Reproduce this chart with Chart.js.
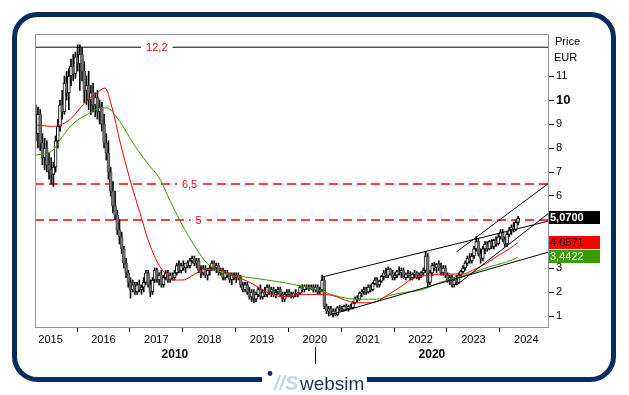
<!DOCTYPE html>
<html>
<head>
<meta charset="utf-8">
<script src="https://cdn.jsdelivr.net/npm/chart.js@4.4.0/dist/chart.umd.min.js"></script>
<style>
  html, body { margin: 0; padding: 0; background: #fff; }
  #chart { display: block; }
</style>
</head>
<body>
<canvas id="chart" width="629" height="395"></canvas>
<script>
// half-month candles, first one in Sep 2014
const FIRST_CANDLE = 2014.72;
const STEP = 1 / 24;

const opens = [
  9.0, 8.6, 9.4, 8.2, 7.6, 8.0, 7.3,
  7.1, 6.9, 7.2, 8.3, 8.9, 9.8, 9.5, 10.7, 10.3, 11.0, 11.4, 11.1, 11.8, 11.5, 11.9, 11.2, 10.4, 10.6, 10.0, 10.3, 9.8, 10.1, 9.5, 9.7,
  9.0, 8.2, 7.8, 7.0, 6.2, 5.6, 5.2, 4.6, 4.3, 3.8, 3.2, 2.8, 2.4, 2.1, 2.3, 2.0, 2.3, 2.1, 2.2, 2.4, 2.8, 2.3, 2.0, 2.5,
  2.9, 2.5, 2.7, 2.3, 2.6, 2.8, 2.5, 2.7, 2.6, 2.8, 3.1, 2.9, 3.1, 3.0, 3.2, 3.1, 3.3, 3.4, 3.2, 3.3, 2.9, 2.8, 3.0, 2.7,
  2.9, 3.0, 3.2, 3.0, 3.1, 2.8, 2.9, 2.6, 2.8, 2.7, 2.5, 2.7, 2.6, 2.7, 2.6, 2.3, 2.1, 2.3, 2.0, 1.8, 2.0, 1.7, 1.9, 2.1,
  1.8, 2.0, 1.9, 2.2, 2.0, 2.1, 1.9, 2.0, 2.1, 1.9, 1.7, 1.9, 2.0, 1.9, 1.8, 1.95, 1.9, 1.95, 2.2, 2.1, 2.25, 2.2, 2.15, 2.2,
  2.1, 2.2, 2.0, 2.1, 2.5, 1.4, 1.2, 1.3, 1.1, 1.2, 1.05, 1.35, 1.3, 1.25, 1.4, 1.3, 1.4, 1.35, 1.55, 1.75, 1.7, 1.95, 2.0, 2.1,
  2.0, 2.2, 2.1, 2.35, 2.5, 2.3, 2.45, 2.65, 2.8, 2.7, 2.95, 2.75, 2.6, 2.7, 2.85, 2.8, 2.9, 2.6, 2.75, 2.7, 2.6, 2.75, 2.8, 2.6,
  2.7, 2.8, 2.9, 3.5, 2.4, 2.8, 3.1, 3.0, 3.15, 3.0, 2.8, 3.0, 2.7, 2.5, 2.6, 2.3, 2.5, 2.4, 2.7, 2.85, 3.0, 3.2, 3.4, 3.3,
  3.5, 3.8, 4.1, 3.6, 3.4, 3.8, 4.0, 3.8, 4.1, 3.9, 4.15, 4.0, 4.3, 4.5, 4.2, 4.0, 4.4, 4.6, 4.7, 4.6, 4.9
];
const highs = [
  9.8, 9.7, 9.6, 8.6, 8.4, 8.3, 7.8,
  7.6, 7.4, 8.5, 9.2, 10.0, 10.4, 11.0, 11.2, 11.3, 11.7, 11.9, 12.0, 12.3, 12.3, 12.2, 11.6, 11.0, 11.2, 10.6, 10.7, 10.3, 10.4, 10.0, 9.9,
  9.4, 8.6, 8.3, 7.2, 6.6, 6.2, 5.4, 5.0, 4.5, 3.9, 3.4, 2.9, 2.6, 2.5, 2.4, 2.4, 2.5, 2.3, 2.6, 2.9, 2.9, 2.5, 2.6, 3.0,
  3.0, 2.8, 2.9, 2.7, 2.9, 2.9, 2.8, 2.8, 2.9, 3.2, 3.3, 3.2, 3.3, 3.2, 3.3, 3.4, 3.5, 3.5, 3.4, 3.4, 3.1, 3.1, 3.1, 3.0,
  3.1, 3.3, 3.3, 3.2, 3.2, 3.0, 3.0, 2.9, 2.9, 2.8, 2.8, 2.8, 2.8, 2.8, 2.7, 2.4, 2.4, 2.4, 2.2, 2.1, 2.1, 2.0, 2.2, 2.3,
  2.1, 2.2, 2.3, 2.3, 2.2, 2.2, 2.1, 2.2, 2.2, 2.0, 2.0, 2.1, 2.1, 2.0, 2.0, 2.1, 2.0, 2.25, 2.3, 2.3, 2.3, 2.3, 2.3, 2.3,
  2.3, 2.3, 2.2, 2.7, 2.6, 1.5, 1.4, 1.4, 1.3, 1.3, 1.4, 1.45, 1.4, 1.45, 1.5, 1.45, 1.5, 1.6, 1.8, 1.85, 2.0, 2.1, 2.2, 2.2,
  2.3, 2.3, 2.4, 2.6, 2.6, 2.5, 2.7, 2.9, 3.0, 3.05, 3.0, 2.9, 2.8, 2.9, 3.05, 3.0, 3.0, 2.8, 2.9, 2.85, 2.8, 2.9, 2.85, 2.8,
  2.85, 3.0, 3.7, 3.6, 2.9, 3.2, 3.25, 3.2, 3.3, 3.2, 3.1, 3.1, 2.8, 2.7, 2.7, 2.6, 2.7, 2.8, 2.9, 3.1, 3.3, 3.5, 3.6, 3.6,
  3.9, 4.3, 4.2, 3.8, 3.9, 4.1, 4.1, 4.15, 4.2, 4.2, 4.3, 4.4, 4.6, 4.6, 4.3, 4.5, 4.7, 4.8, 4.9, 5.0, 5.15
];
const lows = [
  8.3, 8.0, 7.9, 7.3, 7.1, 7.0, 6.7,
  6.5, 6.4, 7.0, 8.0, 8.7, 9.2, 9.4, 10.0, 9.6, 10.6, 10.8, 10.9, 11.2, 10.4, 10.8, 9.9, 9.8, 9.6, 9.4, 9.5, 9.3, 9.2, 9.0, 8.7,
  8.0, 7.5, 6.7, 6.0, 5.3, 5.0, 4.4, 4.0, 3.6, 3.0, 2.6, 2.2, 1.75, 2.0, 1.9, 1.9, 2.0, 1.9, 2.0, 2.3, 2.2, 1.8, 1.9, 2.4,
  2.4, 2.3, 2.2, 2.2, 2.5, 2.4, 2.4, 2.5, 2.5, 2.7, 2.8, 2.8, 2.9, 2.8, 3.0, 3.0, 3.2, 3.1, 3.0, 2.8, 2.6, 2.7, 2.6, 2.5,
  2.7, 2.9, 2.9, 2.8, 2.7, 2.7, 2.5, 2.5, 2.6, 2.4, 2.3, 2.5, 2.4, 2.5, 2.2, 2.0, 2.0, 1.9, 1.7, 1.6, 1.55, 1.6, 1.8, 1.7,
  1.7, 1.8, 1.8, 1.9, 1.8, 1.8, 1.75, 1.9, 1.8, 1.6, 1.6, 1.8, 1.8, 1.75, 1.75, 1.8, 1.8, 1.9, 2.0, 2.0, 2.1, 2.05, 2.1, 2.0,
  2.0, 1.9, 1.9, 2.0, 1.3, 1.1, 1.0, 1.05, 0.95, 1.0, 1.0, 1.2, 1.2, 1.2, 1.25, 1.2, 1.3, 1.3, 1.5, 1.6, 1.65, 1.8, 1.9, 1.9,
  1.95, 2.0, 2.05, 2.3, 2.2, 2.2, 2.4, 2.5, 2.6, 2.6, 2.7, 2.5, 2.5, 2.6, 2.7, 2.6, 2.55, 2.5, 2.6, 2.5, 2.5, 2.6, 2.55, 2.5,
  2.6, 2.7, 2.8, 2.2, 2.3, 2.7, 2.9, 2.8, 2.9, 2.7, 2.7, 2.6, 2.4, 2.3, 2.2, 2.2, 2.3, 2.35, 2.6, 2.8, 2.9, 3.1, 3.2, 3.2,
  3.4, 3.7, 3.5, 3.2, 3.3, 3.6, 3.7, 3.75, 3.8, 3.8, 3.9, 3.95, 4.2, 4.1, 3.9, 3.9, 4.3, 4.4, 4.5, 4.55, 4.8
];
const closes = [
  8.6, 9.4, 8.2, 7.6, 8.0, 7.3, 7.1,
  6.9, 7.2, 8.3, 8.9, 9.8, 9.5, 10.7, 10.3, 11.0, 11.4, 11.1, 11.8, 11.5, 11.9, 11.2, 10.4, 10.6, 10.0, 10.3, 9.8, 10.1, 9.5, 9.7, 9.0,
  8.2, 7.8, 7.0, 6.2, 5.6, 5.2, 4.6, 4.3, 3.8, 3.2, 2.8, 2.4, 2.1, 2.3, 2.0, 2.3, 2.1, 2.2, 2.4, 2.8, 2.3, 2.0, 2.5, 2.9,
  2.5, 2.7, 2.3, 2.6, 2.8, 2.5, 2.7, 2.6, 2.8, 3.1, 2.9, 3.1, 3.0, 3.2, 3.1, 3.3, 3.4, 3.2, 3.3, 2.9, 2.8, 3.0, 2.7, 2.9,
  3.0, 3.2, 3.0, 3.1, 2.8, 2.9, 2.6, 2.8, 2.7, 2.5, 2.7, 2.6, 2.7, 2.6, 2.3, 2.1, 2.3, 2.0, 1.8, 2.0, 1.7, 1.9, 2.1, 1.8,
  2.0, 1.9, 2.2, 2.0, 2.1, 1.9, 2.0, 2.1, 1.9, 1.7, 1.9, 2.0, 1.9, 1.8, 1.95, 1.9, 1.95, 2.2, 2.1, 2.25, 2.2, 2.15, 2.2, 2.1,
  2.2, 2.0, 2.1, 2.5, 1.4, 1.2, 1.3, 1.1, 1.2, 1.05, 1.35, 1.3, 1.25, 1.4, 1.3, 1.4, 1.35, 1.55, 1.75, 1.7, 1.95, 2.0, 2.1, 2.0,
  2.2, 2.1, 2.35, 2.5, 2.3, 2.45, 2.65, 2.8, 2.7, 2.95, 2.75, 2.6, 2.7, 2.85, 2.8, 2.9, 2.6, 2.75, 2.7, 2.6, 2.75, 2.8, 2.6, 2.7,
  2.8, 2.9, 3.5, 2.4, 2.8, 3.1, 3.0, 3.15, 3.0, 2.8, 3.0, 2.7, 2.5, 2.6, 2.3, 2.5, 2.4, 2.7, 2.85, 3.0, 3.2, 3.4, 3.3, 3.5,
  3.8, 4.1, 3.6, 3.4, 3.8, 4.0, 3.8, 4.1, 3.9, 4.15, 4.0, 4.3, 4.5, 4.2, 4.0, 4.4, 4.6, 4.7, 4.6, 4.9, 5.07
];

// moving averages
const redMaYears = [2014.72, 2015.04, 2015.23, 2015.42, 2015.61, 2015.88, 2016.03, 2016.16, 2016.31, 2016.50, 2016.69, 2016.84,
  2017.03, 2017.20, 2017.31, 2017.50, 2017.77, 2017.92, 2018.14, 2018.45, 2018.77, 2019.09, 2019.39, 2019.71, 2020.09,
  2020.34, 2020.66, 2020.98, 2021.17, 2021.36, 2021.61, 2021.85, 2022.17, 2022.49, 2022.79, 2022.98, 2023.25, 2023.49, 2023.68, 2023.84];
const redMaValues = [8.96, 8.9, 9.0, 9.3, 9.8, 10.3, 10.5, 9.7, 8.3, 6.7, 5.3, 4.2,
  3.2, 2.7, 2.5, 2.5, 2.8, 2.95, 2.95, 2.7, 2.4, 2.0, 1.8, 1.9, 1.9,
  1.85, 1.6, 1.55, 1.6, 1.85, 2.2, 2.55, 2.7, 2.75, 2.75, 2.9, 3.2, 3.55, 3.8, 4.0571];
const greenMaYears = [2014.72, 2015.04, 2015.23, 2015.42, 2015.69, 2015.93, 2016.06, 2016.31, 2016.56, 2016.82, 2017.07, 2017.26,
  2017.44, 2017.63, 2017.82, 2017.96, 2018.11, 2018.33, 2018.77, 2019.39, 2020.03, 2020.47, 2020.79, 2021.17, 2021.41,
  2021.61, 2022.04, 2022.37, 2022.69, 2022.98, 2023.30, 2023.63, 2023.84];
const greenMaValues = [7.7, 7.9, 8.5, 9.0, 9.4, 9.65, 9.67, 9.1, 8.2, 7.4, 6.7, 5.8,
  5.0, 4.25, 3.6, 3.2, 2.95, 2.75, 2.6, 2.4, 2.1, 1.8, 1.7, 1.7, 1.85,
  1.95, 2.1, 2.4, 2.6, 2.8, 3.05, 3.25, 3.4422];

// trend lines: [startYear, startValue, endYear, endValue]
const channelUpper = [2020.13, 2.62, 2024.43, 4.96];
const channelLower = [2020.28, 1.04, 2024.43, 3.67];
const steepUpper = [2022.68, 3.67, 2024.43, 6.54];
const steepLower = [2022.68, 2.29, 2024.43, 5.29];

const levelValues = [12.2, 6.5, 5];
const levelLabels = ['12,2', '6,5', '5'];

const lastValues = [5.07, 4.0571, 3.4422];
const lastLabels = ['5,0700', '4,0571', '3,4422'];

const yearTicks = [2015, 2016, 2017, 2018, 2019, 2020, 2021, 2022, 2023, 2024];
const priceTicks = [1, 2, 3, 4, 5, 6, 7, 8, 9, 10, 11];
const decadeLabels = ['2010', '2020'];

const X_MIN = 2014.705, X_MAX = 2024.43;
const FONT = '"Liberation Sans", Arial, sans-serif';
const NAVY = '#082c5c';
const RED = '#ff0000';
const GREEN = '#3a9c00';

Chart.defaults.font.family = FONT;
Chart.defaults.font.size = 11;
Chart.defaults.color = '#000';

const candleTimes = closes.map((c, i) => FIRST_CANDLE + i * STEP);
const wickData = candleTimes.map((t, i) => ({ x: t, y: [lows[i], highs[i]] }));
const bodyData = candleTimes.map((t, i) => ({ x: t, y: [opens[i], closes[i]] }));
const isUp = closes.map((c, i) => c >= opens[i]);

const pairs = (xs, ys) => xs.map((x, i) => ({ x: x, y: ys[i] }));
const segment = s => [{ x: s[0], y: s[1] }, { x: s[2], y: s[3] }];
const level = v => [{ x: X_MIN, y: v }, { x: X_MAX, y: v }];

const lineBase = { type: 'line', pointRadius: 0, borderWidth: 1, fill: false };

const extras = {
  id: 'extras',
  beforeDraw(chart) {
    const ctx = chart.ctx;
    ctx.save();
    ctx.fillStyle = '#fff';
    ctx.fillRect(0, 0, chart.width, chart.height);
    ctx.restore();
  },
  afterDatasetsDraw(chart) {
    const { ctx, chartArea: a, scales: { x, y } } = chart;
    ctx.save();
    ctx.strokeStyle = '#8f8fa3';
    ctx.lineWidth = 1;
    ctx.strokeRect(a.left + 0.5, a.top + 0.5, a.right - a.left - 1, a.bottom - a.top - 1);

    // labels sitting on the level lines
    const labelAt = [2017.01, 2017.63, 2017.8];
    ctx.font = '11px ' + FONT;
    ctx.textAlign = 'center';
    ctx.textBaseline = 'middle';
    levelValues.forEach((v, i) => {
      const px = x.getPixelForValue(labelAt[i]);
      const py = y.getPixelForValue(v);
      const w = ctx.measureText(levelLabels[i]).width + 10;
      ctx.fillStyle = '#fff';
      ctx.fillRect(px - w / 2, py - 6, w, 12);
      ctx.fillStyle = RED;
      ctx.fillText(levelLabels[i], px, py + 1);
    });
    ctx.restore();
  },
  afterDraw(chart) {
    const { ctx, chartArea: a, scales: { x, y } } = chart;
    ctx.save();

    // axis title
    ctx.fillStyle = '#000';
    ctx.font = '11px ' + FONT;
    ctx.textAlign = 'left';
    ctx.textBaseline = 'middle';
    ctx.fillText('Price', a.right + 6, 42);
    ctx.fillText('EUR', a.right + 5, 58);

    // last value boxes
    const boxFill = ['#000', RED, GREEN];
    const boxText = ['#fff', '#200000', '#fff'];
    lastValues.forEach((v, i) => {
      const py = y.getPixelForValue(v);
      ctx.fillStyle = boxFill[i];
      ctx.fillRect(a.right, Math.round(py) - 7, 51, 13);
      ctx.fillStyle = boxText[i];
      ctx.font = (i === 0 ? 'bold ' : '') + '11px ' + FONT;
      ctx.fillText(lastLabels[i], a.right + 1, Math.round(py) - 0.5);
    });

    // decade row
    const split = x.getPixelForValue(2020);
    ctx.font = 'bold 12px ' + FONT;
    ctx.textAlign = 'center';
    ctx.fillStyle = '#000';
    ctx.fillText(decadeLabels[0], (a.left + split) / 2, 355);
    ctx.fillText(decadeLabels[1], (split + a.right) / 2, 355);
    ctx.strokeStyle = '#000';
    ctx.lineWidth = 1;
    ctx.beginPath();
    ctx.moveTo(Math.round(split) + 0.5, 347);
    ctx.lineTo(Math.round(split) + 0.5, 364);
    ctx.stroke();

    // rounded outer frame
    const fx = 14.5, fy = 14.5, fw = 599, fh = 365, r = 23;
    ctx.strokeStyle = NAVY;
    ctx.lineWidth = 5;
    ctx.beginPath();
    ctx.moveTo(fx + r, fy);
    ctx.arcTo(fx + fw, fy, fx + fw, fy + fh, r);
    ctx.arcTo(fx + fw, fy + fh, fx, fy + fh, r);
    ctx.arcTo(fx, fy + fh, fx, fy, r);
    ctx.arcTo(fx, fy, fx + fw, fy, r);
    ctx.closePath();
    ctx.stroke();

    // logo in the bottom edge
    ctx.fillStyle = '#fff';
    ctx.fillRect(262, 372, 105, 23);
    ctx.fillStyle = NAVY;
    ctx.beginPath();
    ctx.arc(270, 373.5, 2.4, 0, Math.PI * 2);
    ctx.fill();
    ctx.textAlign = 'left';
    ctx.textBaseline = 'alphabetic';
    ctx.fillStyle = '#c6d2df';
    ctx.font = 'italic bold 20px ' + FONT;
    ctx.fillText('//S', 274, 390);
    ctx.fillStyle = '#14325f';
    ctx.font = '19px ' + FONT;
    ctx.fillText('websim', 300, 390);
    ctx.restore();
  }
};

new Chart(document.getElementById('chart'), {
  type: 'bar',
  data: {
    datasets: [
      { ...lineBase, data: level(levelValues[0]), borderColor: '#000', order: 20 },
      { ...lineBase, data: level(levelValues[1]), borderColor: RED, borderWidth: 1.5, borderDash: [9, 5], order: 20 },
      { ...lineBase, data: level(levelValues[2]), borderColor: RED, borderWidth: 1.5, borderDash: [9, 5], order: 20 },
      {
        type: 'bar', data: wickData, backgroundColor: '#000', barThickness: 1,
        grouped: false, order: 12
      },
      {
        type: 'bar', data: bodyData, barThickness: 3, grouped: false, order: 11,
        minBarLength: 1, borderWidth: 1, borderSkipped: false,
        backgroundColor: isUp.map(u => u ? '#fff' : '#727272'),
        borderColor: isUp.map(u => u ? '#000' : '#4c4c4c')
      },
      { ...lineBase, data: pairs(greenMaYears, greenMaValues), borderColor: GREEN, cubicInterpolationMode: 'monotone', order: 6 },
      { ...lineBase, data: pairs(redMaYears, redMaValues), borderColor: RED, cubicInterpolationMode: 'monotone', order: 5 },
      { ...lineBase, data: segment(channelUpper), borderColor: '#000', order: 4 },
      { ...lineBase, data: segment(channelLower), borderColor: '#000', order: 4 },
      { ...lineBase, data: segment(steepUpper), borderColor: '#000', order: 4 },
      { ...lineBase, data: segment(steepLower), borderColor: '#000', order: 4 }
    ]
  },
  options: {
    responsive: false,
    animation: false,
    devicePixelRatio: 1,
    layout: { padding: { left: 35, top: 34, right: 0, bottom: 0 } },
    plugins: { legend: { display: false }, tooltip: { enabled: false } },
    scales: {
      x: {
        type: 'linear',
        min: X_MIN,
        max: X_MAX,
        offset: false,
        afterBuildTicks: s => { s.ticks = yearTicks.map(v => ({ value: v })); },
        afterFit: s => { s.height = 67; },
        ticks: { autoSkip: false, maxRotation: 0, padding: 1, color: '#000', font: { size: 11 }, callback: v => String(v) },
        grid: { drawOnChartArea: false, drawTicks: true, tickLength: 4, tickColor: '#000' },
        border: { display: false }
      },
      y: {
        type: 'linear',
        position: 'right',
        min: 0.5,
        max: 12.75,
        afterBuildTicks: s => { s.ticks = priceTicks.map(v => ({ value: v })); },
        afterFit: s => { s.width = 80; },
        ticks: {
          padding: 2,
          color: '#000',
          callback: v => String(v),
          font: c => (c.tick && c.tick.value === 10) ? { size: 13, weight: 'bold' } : { size: 11 }
        },
        grid: { drawOnChartArea: false, drawTicks: true, tickLength: 5, tickColor: '#000' },
        border: { display: false }
      }
    }
  },
  plugins: [extras]
});
</script>
</body>
</html>
